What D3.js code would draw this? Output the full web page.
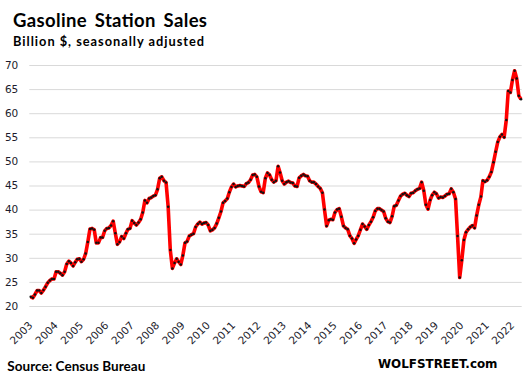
<!DOCTYPE html>
<html>
<head>
<meta charset="utf-8">
<script src="https://cdn.jsdelivr.net/npm/d3@7"></script>
<style>
  body { margin: 0; background: #fff; }
  svg { display: block; }
</style>
</head>
<body>
<svg id="chart" width="527" height="379"></svg>
<script>
// monthly sales, billion $, first month May 2003, last month Sep 2022
const firstMonth = [2003, 4]
const sales = [
  21.9, 21.7, 22.4, 23.2, 23.2, 22.7, 23.3, 24.0, 24.8, 25.3, 25.6, 25.6,
  27.1, 27.1, 26.8, 26.4, 27.1, 28.7, 29.3, 28.9, 28.3, 29.1, 29.7, 29.8,
  29.2, 29.7, 30.9, 33.3, 36.0, 36.1, 35.8, 33.1, 33.1, 34.2, 34.2, 35.6,
  36.1, 36.2, 36.7, 37.6, 35.1, 32.8, 33.3, 34.4, 34.0, 35.1, 35.9, 36.1,
  37.7, 37.2, 36.8, 37.3, 38.0, 39.4, 41.9, 41.4, 42.3, 42.5, 42.8, 43.0,
  44.2, 46.5, 46.8, 46.0, 45.6, 40.6, 31.6, 27.8, 28.9, 29.8, 29.2, 28.6,
  30.5, 33.1, 33.4, 34.5, 34.8, 35.0, 36.4, 37.0, 37.4, 37.0, 37.2, 37.3,
  36.8, 35.6, 35.8, 36.2, 37.1, 38.3, 39.6, 41.4, 41.8, 42.3, 43.6, 44.7,
  45.3, 44.7, 44.9, 45.0, 44.9, 44.8, 45.4, 45.6, 46.2, 47.2, 47.3, 46.8,
  44.8, 43.7, 43.5, 46.5, 47.6, 47.2, 46.2, 45.7, 46.0, 49.0, 47.7, 46.0,
  45.3, 45.7, 45.9, 45.6, 45.5, 44.9, 44.8, 46.6, 47.0, 47.3, 47.0, 46.9,
  46.0, 45.7, 45.7, 45.3, 44.8, 44.4, 43.5, 40.0, 36.6, 37.8, 38.0, 37.9,
  39.4, 40.0, 40.2, 38.5, 36.6, 36.2, 35.9, 34.6, 34.0, 33.0, 33.8, 34.6,
  35.8, 37.0, 36.5, 35.9, 36.8, 37.5, 38.4, 39.7, 40.2, 40.2, 39.9, 39.6,
  38.2, 37.5, 37.3, 38.6, 40.7, 40.9, 41.9, 42.8, 43.2, 43.4, 43.0, 42.7,
  43.4, 43.5, 43.9, 44.2, 44.4, 45.7, 43.9, 41.0, 40.1, 42.0, 43.0, 43.6,
  43.3, 42.4, 42.6, 42.5, 42.8, 43.2, 43.3, 44.3, 43.6, 42.2, 34.5, 25.9,
  29.5, 33.7, 35.3, 35.9, 36.4, 36.7, 36.2, 38.8, 41.0, 42.7, 46.0, 45.8,
  46.1, 46.8, 47.8, 49.8, 52.0, 54.0, 55.1, 55.6, 55.0, 58.6, 64.6, 64.3,
  66.9, 68.8, 67.2, 63.6, 62.9
]
const yearLabels = d3.range(2003, 2023)
const yTicks = d3.range(20, 71, 5)

const months = sales.map((v, i) => new Date(firstMonth[0], firstMonth[1] + i, 1))
const data = sales.map((v, i) => ({ date: months[i], value: v }))

const svg = d3.select('#chart')

let x = d3.scaleTime()
  .domain([months[0], months[months.length - 1]])
  .range([30.7, 521])

let y = d3.scaleLinear()
  .domain([20, 70])
  .range([306, 65])

// horizontal gridlines + y labels
let yAxis = svg.append('g')
  .attr('transform', 'translate(29.3,0)')
  .call(d3.axisLeft(y).tickValues(yTicks).tickSize(-492.4).tickPadding(11))

yAxis.select('.domain').remove()
yAxis.selectAll('line').attr('stroke', '#d9d9d9').attr('stroke-width', 1)
yAxis.selectAll('text')
  .style('font-family', 'DejaVu Sans')
  .style('font-size', '10.5px')
  .attr('fill', '#1c1c2c')

// year labels, tilted
let xAxis = svg.append('g')
  .attr('transform', 'translate(0,306)')
  .call(d3.axisBottom(x)
    .tickValues(yearLabels.map(yr => new Date(yr, firstMonth[1], 1)))
    .tickFormat(d3.timeFormat('%Y'))
    .tickSize(0))

xAxis.select('.domain').remove()
xAxis.selectAll('text')
  .attr('y', 0)
  .attr('dy', 0)
  .attr('text-anchor', 'end')
  .attr('transform', 'translate(2,20) rotate(-45)')
  .style('font-family', 'DejaVu Sans')
  .style('font-size', '10.5px')
  .attr('fill', '#1c1c2c')

// the line
let line = d3.line()
  .x(d => x(d.date))
  .y(d => y(d.value))

svg.append('path')
  .datum(data)
  .attr('fill', 'none')
  .attr('stroke', '#ff0000')
  .attr('stroke-width', 3.6)
  .attr('stroke-linejoin', 'round')
  .attr('d', line)

svg.append('g')
  .selectAll('circle')
  .data(data)
  .enter().append('circle')
  .attr('cx', d => x(d.date))
  .attr('cy', d => y(d.value))
  .attr('r', 1.25)
  .attr('fill', '#111')

// titles and footer
svg.append('text')
  .attr('x', 13)
  .attr('y', 26.7)
  .attr('textLength', 194)
  .attr('lengthAdjust', 'spacing')
  .style('font-family', 'Lato')
  .style('font-weight', 'bold')
  .style('font-size', '18.5px')
  .style('word-spacing', '3px')
  .text('Gasoline Station Sales')

svg.append('text')
  .attr('x', 13)
  .attr('y', 46)
  .attr('textLength', 191)
  .attr('lengthAdjust', 'spacing')
  .style('font-family', 'Lato')
  .style('font-weight', 'bold')
  .style('font-size', '12.8px')
  .text('Billion $, seasonally adjusted')

svg.append('text')
  .attr('x', 7.3)
  .attr('y', 370.7)
  .attr('textLength', 138)
  .attr('lengthAdjust', 'spacing')
  .style('font-family', 'Lato')
  .style('font-weight', 'bold')
  .style('font-size', '13.5px')
  .text('Source: Census Bureau')

svg.append('text')
  .attr('x', 378)
  .attr('y', 367.7)
  .attr('textLength', 119.5)
  .attr('lengthAdjust', 'spacingAndGlyphs')
  .style('font-family', 'DejaVu Sans')
  .style('font-weight', 'bold')
  .style('font-size', '12.8px')
  .text('WOLFSTREET.com')
</script>
</body>
</html>
